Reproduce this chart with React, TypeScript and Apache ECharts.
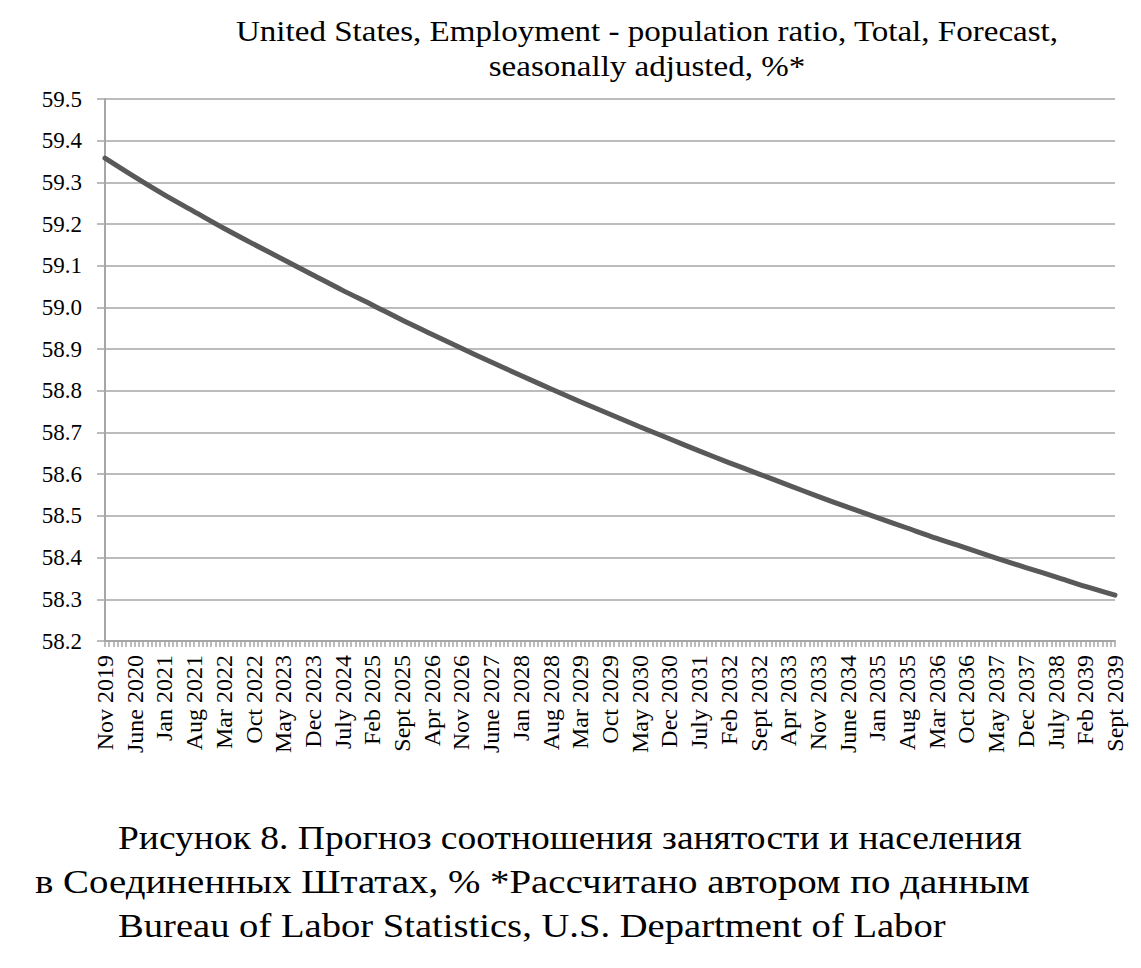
import React, { useEffect, useRef } from "react";
import * as echarts from "echarts";

// Labelled months (every 7th month from Nov 2019 to Sept 2039)
const monthLabels: string[] = [
  "Nov 2019", "June 2020", "Jan 2021", "Aug 2021", "Mar 2022", "Oct 2022", "May 2023",
  "Dec 2023", "July 2024", "Feb 2025", "Sept 2025", "Apr 2026", "Nov 2026", "June 2027",
  "Jan 2028", "Aug 2028", "Mar 2029", "Oct 2029", "May 2030", "Dec 2030", "July 2031",
  "Feb 2032", "Sept 2032", "Apr 2033", "Nov 2033", "June 2034", "Jan 2035", "Aug 2035",
  "Mar 2036", "Oct 2036", "May 2037", "Dec 2037", "July 2038", "Feb 2039", "Sept 2039",
];

// Employment-population ratio (%) read at each labelled month
const ratioValues: number[] = [
  59.358, 59.313, 59.270, 59.230, 59.190, 59.152, 59.115, 59.078, 59.041, 59.006,
  58.970, 58.936, 58.902, 58.869, 58.837, 58.805, 58.774, 58.744, 58.714, 58.685,
  58.656, 58.628, 58.601, 58.574, 58.547, 58.521, 58.496, 58.471, 58.446, 58.423,
  58.399, 58.376, 58.354, 58.331, 58.310,
];

const MONTHS_PER_LABEL = 7;
const TOTAL_MONTHS = (monthLabels.length - 1) * MONTHS_PER_LABEL;

const yTicks = { min: 58.2, max: 59.5, step: 0.1 };

const titleText = "United States, Employment - population ratio, Total, Forecast,\nseasonally adjusted, %*";
const captionLines: string[] = [
  "Рисунок 8. Прогноз соотношения занятости и населения",
  "в Соединенных Штатах, % *Рассчитано автором по данным",
  "Bureau of Labor Statistics, U.S. Department of Labor",
];

const SERIF = "'Liberation Serif', 'Times New Roman', serif";
const GRAY = "#a6a6a6";

export default function App() {
  const ref = useRef<HTMLDivElement>(null);
  useEffect(() => {
    document.body.style.margin = "0";
    if (!ref.current) return;
    const chart = echarts.init(ref.current, undefined, { renderer: "svg" });
    const data = ratioValues.map((v, i) => [i * MONTHS_PER_LABEL, v]);
    const captionLeft = [118, 35, 118];
    const captionScale = [1.137, 1.179, 1.17];
    chart.setOption({
      animation: false,
      backgroundColor: "#ffffff",
      grid: { left: 105, right: 26, top: 99, bottom: 327, containLabel: false },
      xAxis: {
        type: "value",
        min: 0,
        max: TOTAL_MONTHS,
        interval: MONTHS_PER_LABEL,
        axisLine: { show: true, lineStyle: { color: GRAY, width: 2 } },
        axisTick: { show: true, length: 6, lineStyle: { color: GRAY, width: 1.5 } },
        minorTick: { show: true, splitNumber: MONTHS_PER_LABEL, length: 6, lineStyle: { color: GRAY, width: 1.5 } },
        splitLine: { show: false },
        axisLabel: {
          rotate: 90,
          margin: 14,
          fontFamily: SERIF,
          fontSize: 24,
          color: "#000",
          showMinLabel: true,
          showMaxLabel: true,
          formatter: (v: number) => monthLabels[Math.round(v / MONTHS_PER_LABEL)] ?? "",
        },
      },
      yAxis: {
        type: "value",
        min: yTicks.min,
        max: yTicks.max,
        interval: yTicks.step,
        axisLine: { show: true, lineStyle: { color: GRAY, width: 2 } },
        axisTick: { show: true, length: 8, lineStyle: { color: GRAY, width: 1.5 } },
        splitLine: { show: true, lineStyle: { color: GRAY, width: 1.5 } },
        axisLabel: {
          margin: 23,
          fontFamily: SERIF,
          fontSize: 23,
          color: "#000",
          formatter: (v: number) => v.toFixed(1),
        },
      },
      series: [
        {
          type: "line",
          data,
          smooth: 0.3,
          showSymbol: false,
          symbol: "none",
          lineStyle: { color: "#595959", width: 5, cap: "round" },
        },
      ],
      graphic: [
        {
          type: "text",
          x: 647,
          y: 14,
          scaleX: 1.14,
          style: {
            text: titleText,
            fontFamily: SERIF,
            fontSize: 29,
            fill: "#000",
            align: "center",
            verticalAlign: "top",
            lineHeight: 35,
          },
        },
        ...captionLines.map((t, i) => ({
          type: "text",
          x: captionLeft[i],
          y: 838 + i * 44,
          scaleX: captionScale[i],
          style: {
            text: t,
            fontFamily: SERIF,
            fontSize: 33,
            fill: "#000",
            align: "left",
            verticalAlign: "middle",
          },
        })),
      ],
    });
    return () => chart.dispose();
  }, []);
  return <div ref={ref} style={{ width: 1141, height: 968 }} />;
}
